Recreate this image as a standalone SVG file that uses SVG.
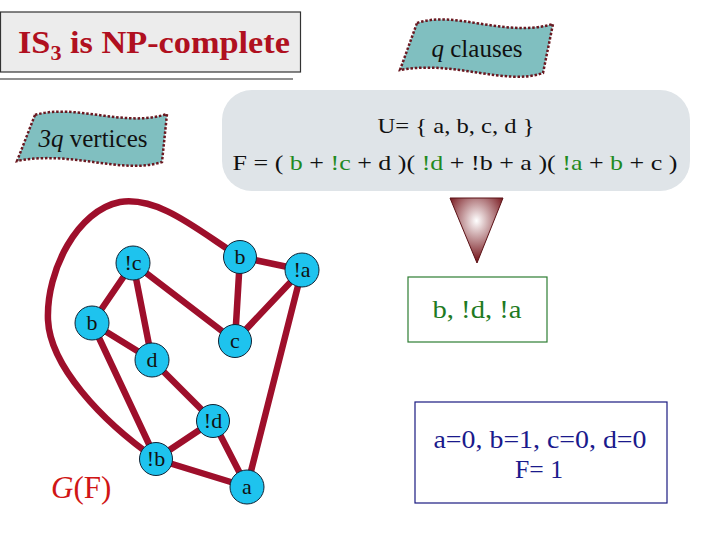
<svg xmlns="http://www.w3.org/2000/svg" width="720" height="540" viewBox="0 0 720 540">
<defs>
<radialGradient id="tri" cx="0.5" cy="0.35" r="0.6">
<stop offset="0" stop-color="#ffffff"/>
<stop offset="1" stop-color="#7a1c22"/>
</radialGradient>
<style>
.edge{fill:none;stroke:#9e0f2b;stroke-width:6.5;stroke-linecap:round}
.node circle{fill:#1ec3ee;stroke:#123;stroke-width:1}
.node text{font-family:'Liberation Serif',serif;font-size:22px;fill:#111;text-anchor:middle}
.flag{fill:#80bfc0;stroke:#6a1820;stroke-width:2.5;stroke-dasharray:2.5 1.8}
.ft{font-family:'Liberation Serif',serif;font-size:25px;fill:#111;text-anchor:middle}
.fm{font-family:'Liberation Serif',serif;font-size:22px;fill:#111;text-anchor:middle}
.g{fill:#1f8a22}
</style>
</defs>
<rect width="720" height="540" fill="#ffffff"/>

<g id="title">
<rect x="0.5" y="12" width="300" height="60" fill="#ececec" stroke="#333" stroke-width="1.2"/>
<line x1="0" y1="79" x2="293" y2="79" stroke="#222" stroke-width="1.2"/>
<text x="18" y="53" font-family="'Liberation Serif',serif" font-weight="bold" font-size="31" fill="#b01020" textLength="272" lengthAdjust="spacingAndGlyphs">IS<tspan font-size="20" dy="7">3</tspan><tspan dy="-7"> is NP-complete</tspan></text>
</g>

<g id="qclauses">
<path class="flag" d="M417,23 C455,10 505,38 553,24 L543,73 C505,86 455,60 400,70 Z"/>
<text class="ft" x="477" y="57"><tspan font-style="italic">q</tspan> clauses</text>
</g>

<g id="vertices3q">
<path class="flag" d="M35,115 C75,103 125,128 167,114 L162,162 C122,175 72,150 17,161 Z"/>
<text class="ft" x="93" y="147"><tspan font-style="italic">3q</tspan> vertices</text>
</g>

<g id="formula">
<rect x="222" y="90" width="468" height="101" rx="30" fill="#dfe4e8"/>
<text class="fm" x="456" y="133" textLength="157" lengthAdjust="spacingAndGlyphs">U= { a, b, c, d }</text>
<text class="fm" x="455" y="170" textLength="445" lengthAdjust="spacingAndGlyphs">F = ( <tspan class="g">b</tspan> + <tspan class="g">!c</tspan> + d )( <tspan class="g">!d</tspan> + !b + a )( <tspan class="g">!a</tspan> + <tspan class="g">b</tspan> + c )</text>
</g>

<g id="arrow">
<polygon points="450,198 503,198 477,263" fill="url(#tri)" stroke="#5a1015" stroke-width="1"/>
</g>

<g id="result">
<rect x="408" y="277" width="139" height="65" fill="#fff" stroke="#2e7d32" stroke-width="1.2"/>
<text x="477" y="318" font-family="'Liberation Serif',serif" font-size="26" fill="#1e7a22" text-anchor="middle" textLength="89" lengthAdjust="spacingAndGlyphs">b, !d, !a</text>
</g>

<g id="assignment">
<rect x="415" y="402" width="252" height="101" fill="#fff" stroke="#1a1a80" stroke-width="1.2"/>
<text x="540" y="448" font-family="'Liberation Serif',serif" font-size="26" fill="#1a1a8c" text-anchor="middle" textLength="213" lengthAdjust="spacingAndGlyphs">a=0, b=1, c=0, d=0</text>
<text x="539" y="478" font-family="'Liberation Serif',serif" font-size="26" fill="#1a1a8c" text-anchor="middle" textLength="48" lengthAdjust="spacingAndGlyphs">F= 1</text>
</g>

<g id="connectors">
<line class="edge" x1="133" y1="263" x2="92" y2="323"/>
<line class="edge" x1="133" y1="263" x2="152" y2="360"/>
<line class="edge" x1="133" y1="263" x2="235" y2="341"/>
<line class="edge" x1="240" y1="257" x2="235" y2="341"/>
<line class="edge" x1="240" y1="257" x2="302" y2="270"/>
<line class="edge" x1="302" y1="270" x2="235" y2="341"/>
<line class="edge" x1="302" y1="270" x2="247" y2="487"/>
<line class="edge" x1="92" y1="323" x2="152" y2="360"/>
<line class="edge" x1="92" y1="323" x2="156" y2="459"/>
<line class="edge" x1="152" y1="360" x2="213" y2="421"/>
<line class="edge" x1="213" y1="421" x2="156" y2="459"/>
<line class="edge" x1="213" y1="421" x2="247" y2="487"/>
<line class="edge" x1="156" y1="459" x2="247" y2="487"/>
<path class="edge" d="M240,257 C200,232 160,196 120,202 C78,210 46,270 48,320 C50,365 100,420 156,459"/>
</g>

<g id="n-nc" class="node"><circle cx="133" cy="263" r="17"/><text x="133" y="270">!c</text></g>
<g id="n-b1" class="node"><circle cx="240" cy="257" r="16.5"/><text x="240" y="264">b</text></g>
<g id="n-na" class="node"><circle cx="302" cy="270" r="17"/><text x="302" y="277">!a</text></g>
<g id="n-b2" class="node"><circle cx="92" cy="323" r="17"/><text x="92" y="330">b</text></g>
<g id="n-c" class="node"><circle cx="235" cy="341" r="16.5"/><text x="235" y="348">c</text></g>
<g id="n-d" class="node"><circle cx="152" cy="360" r="17"/><text x="152" y="367">d</text></g>
<g id="n-nd" class="node"><circle cx="213" cy="421" r="16.5"/><text x="213" y="428">!d</text></g>
<g id="n-nb" class="node"><circle cx="156" cy="459" r="16.5"/><text x="156" y="466">!b</text></g>
<g id="n-a" class="node"><circle cx="247" cy="487" r="17"/><text x="247" y="494">a</text></g>

<g id="gf">
<text x="51" y="498" font-family="'Liberation Serif',serif" font-size="31" fill="#d01515"><tspan font-style="italic">G</tspan>(F)</text>
</g>
</svg>
